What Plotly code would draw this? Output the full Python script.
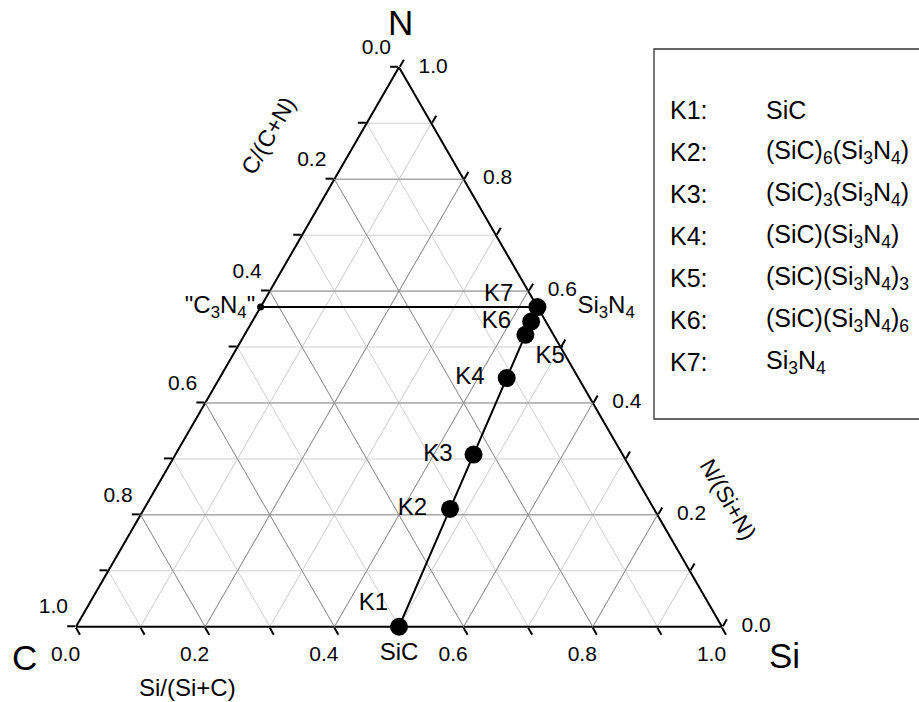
import plotly.graph_objects as go

# ---------------- data ----------------
labels = ["K1", "K2", "K3", "K4", "K5", "K6", "K7"]
formulas = [
    "SiC",
    "(SiC)<sub>6</sub>(Si<sub>3</sub>N<sub>4</sub>)",
    "(SiC)<sub>3</sub>(Si<sub>3</sub>N<sub>4</sub>)",
    "(SiC)(Si<sub>3</sub>N<sub>4</sub>)",
    "(SiC)(Si<sub>3</sub>N<sub>4</sub>)<sub>3</sub>",
    "(SiC)(Si<sub>3</sub>N<sub>4</sub>)<sub>6</sub>",
    "Si<sub>3</sub>N<sub>4</sub>",
]
# atoms per formula unit (N, C, Si)
n_atoms = [0, 4, 4, 4, 12, 24, 4]
c_atoms = [1, 6, 3, 1, 1, 1, 0]
si_atoms = [1, 9, 6, 4, 10, 19, 3]

c3n4_label = '"C<sub>3</sub>N<sub>4</sub>"'
c3n4_n, c3n4_c, c3n4_si = 4, 3, 0

tick_values = [i / 10 for i in range(11)]
label_values = [i / 5 for i in range(6)]
major_grid = [0.2, 0.4, 0.6, 0.8]

# ---------------- styles ----------------
FONT = "Liberation Sans, Arial, sans-serif"
EM = "\u2003"
# per-label placement (text position, text offset radius in px, padding)
k_pos = ["top left", "middle left", "middle left", "middle left",
         "bottom right", "middle left", "top left"]
k_off = [11, 23, 21, 22, 10, 20, 0]
k_pad = ["", "", "", "", "", "", EM]


def off_size(r):
    # invisible marker diameter that makes plotly offset text by r px
    return max(0.0, 1.6 * (r - 1))


def ghost(size):
    return dict(size=size, color="rgba(0,0,0,0)", opacity=0, line=dict(width=0))


fig = go.Figure()

# major grid lines (darker) drawn as ternary lines
for v in major_grid:
    for a, b, c in (([v, v], [1 - v, 0], [0, 1 - v]),
                    ([1 - v, 0], [v, v], [0, 1 - v]),
                    ([1 - v, 0], [0, 1 - v], [v, v])):
        fig.add_trace(go.Scatterternary(a=a, b=b, c=c, mode="lines",
                                        line=dict(color="#8f8f8f", width=1),
                                        hoverinfo="skip", showlegend=False))

# tick labels placed outside the triangle edges
tf = dict(family=FONT, size=21, color="black")
# left edge: C/(C+N)
fig.add_trace(go.Scatterternary(
    a=[1 - v for v in label_values], b=label_values, c=[0] * len(label_values),
    mode="markers+text", marker=ghost(off_size(8)),
    text=[f"{v:.1f}" for v in label_values], textposition="top left",
    textfont=tf, cliponaxis=False, showlegend=False, hoverinfo="skip"))
# bottom edge: Si/(Si+C)
fig.add_trace(go.Scatterternary(
    a=[0] * len(label_values), b=[1 - v for v in label_values], c=label_values,
    mode="markers+text", marker=ghost(off_size(19)),
    text=[f"{v:.1f}" + EM for v in label_values], textposition="bottom center",
    textfont=tf, cliponaxis=False, showlegend=False, hoverinfo="skip"))
# right edge: N/(Si+N)
fig.add_trace(go.Scatterternary(
    a=label_values, b=[0] * len(label_values), c=[1 - v for v in label_values],
    mode="markers+text", marker=ghost(off_size(19.5)),
    text=[f"{v:.1f}" for v in label_values], textposition="middle right",
    textfont=tf, cliponaxis=False, showlegend=False, hoverinfo="skip"))

lf = dict(family=FONT, size=24, color="black")

# C3N4 -> Si3N4 tie line
fig.add_trace(go.Scatterternary(
    a=[c3n4_n, n_atoms[-1]], b=[c3n4_c, c_atoms[-1]], c=[c3n4_si, si_atoms[-1]],
    mode="lines", line=dict(color="black", width=2), showlegend=False, hoverinfo="skip"))
# C3N4 small dot + label
fig.add_trace(go.Scatterternary(
    a=[c3n4_n], b=[c3n4_c], c=[c3n4_si], mode="markers+text",
    marker=dict(color="black", size=7, line=dict(width=0)),
    text=[c3n4_label], textposition="middle left",
    textfont=lf, cliponaxis=False, showlegend=False, hoverinfo="skip"))

# K series
fig.add_trace(go.Scatterternary(
    a=n_atoms, b=c_atoms, c=si_atoms, mode="lines+markers",
    line=dict(color="black", width=2),
    marker=dict(color="black", size=18, line=dict(width=0)),
    cliponaxis=False, showlegend=False, hoverinfo="skip"))
fig.add_trace(go.Scatterternary(
    a=n_atoms, b=c_atoms, c=si_atoms, mode="markers+text",
    marker=ghost([off_size(r) for r in k_off]),
    text=[lab + p for lab, p in zip(labels, k_pad)], textposition=k_pos,
    textfont=lf, cliponaxis=False, showlegend=False, hoverinfo="skip"))

# end-member names
fig.add_trace(go.Scatterternary(
    a=[n_atoms[0]], b=[c_atoms[0]], c=[si_atoms[0]], mode="markers+text",
    marker=ghost(off_size(15)),
    text=[formulas[0]], textposition="bottom center",
    textfont=lf, cliponaxis=False, showlegend=False, hoverinfo="skip"))
fig.add_trace(go.Scatterternary(
    a=[n_atoms[-1]], b=[c_atoms[-1]], c=[si_atoms[-1]], mode="markers+text",
    marker=ghost(off_size(40)),
    text=[formulas[-1]], textposition="middle right",
    textfont=lf, cliponaxis=False, showlegend=False, hoverinfo="skip"))

axis_common = dict(
    tickmode="array", tickvals=tick_values, showticklabels=False,
    ticks="outside", ticklen=8, tickwidth=1.5, tickcolor="black",
    showline=True, linecolor="black", linewidth=2,
    showgrid=True, gridcolor="#d0d0d0", gridwidth=1,
    layer="below traces", title=dict(text=""), min=0,
)

W, H = 919, 702
x_left, x_right, y_bottom = 76, 722, 627
tri_h = (x_right - x_left) * 3 ** 0.5 / 2

fig.update_layout(
    width=W, height=H, margin=dict(l=0, r=0, t=0, b=0),
    paper_bgcolor="white", plot_bgcolor="white",
    font=dict(family=FONT, color="black"),
    ternary=dict(
        sum=1, bgcolor="white",
        domain=dict(x=[x_left / W, x_right / W],
                    y=[(H - y_bottom) / H, (H - y_bottom + tri_h + 0.5) / H]),
        aaxis=dict(axis_common), baxis=dict(axis_common), caxis=dict(axis_common),
    ),
)

ann = []


def add_text(x, y, text, size, angle=0, xanchor="center"):
    ann.append(dict(x=x / W, y=1 - y / H, xref="paper", yref="paper", text=text,
                    showarrow=False, textangle=angle, xanchor=xanchor, yanchor="middle",
                    font=dict(family=FONT, size=size, color="black")))


add_text(400, 23, "N", 35)
add_text(24, 657, "C", 35)
add_text(784, 655, "Si", 35)
add_text(187, 687, "Si/(Si+C)", 24)
add_text(268, 136, "C/(C+N)", 23, angle=-60)
add_text(728, 499, "N/(Si+N)", 23, angle=60)

for i, (lab, form) in enumerate(zip(labels, formulas)):
    y = 110 + 42 * i
    add_text(668, y, lab + ":", 25, xanchor="left")
    add_text(764, y, form, 25, xanchor="left")

fig.update_layout(annotations=ann)
fig.add_shape(type="rect", xref="paper", yref="paper",
              x0=654 / W, x1=1.02, y0=1 - 419 / H, y1=1 - 49 / H,
              line=dict(color="#333333", width=1.3), fillcolor="rgba(0,0,0,0)")

fig.write_html("out.html")
